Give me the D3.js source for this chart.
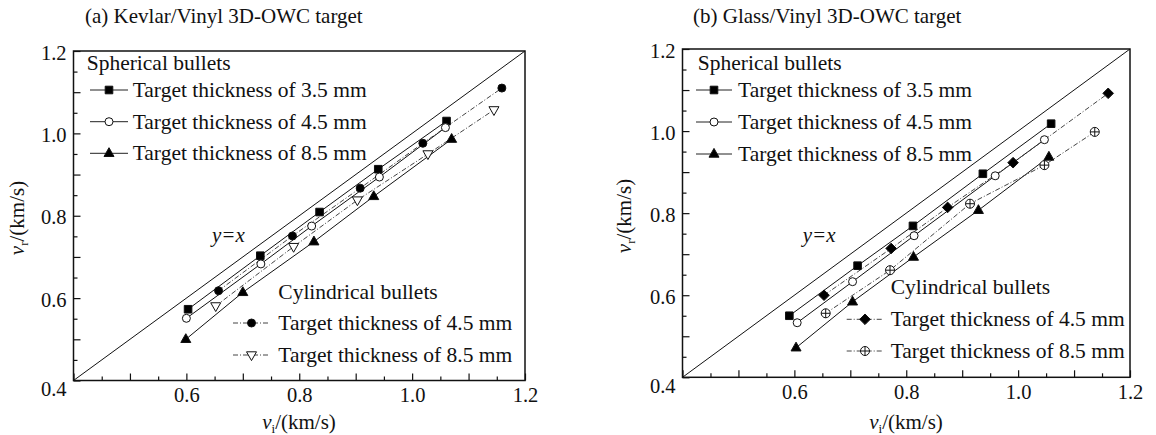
<html>
<head>
<title>Residual velocity vs impact velocity</title>
<style>
body {
	margin: 0;
	background: #fff;
}
</style>
</head>
<body>
<svg width="1156" height="435"></svg>
<script src="https://d3js.org/d3.v7.min.js"></script>
<script>
// Tick values and labels (both panels use the same 0.4 - 1.2 range)
const majorTicks = [0.4, 0.5, 0.6, 0.7, 0.8, 0.9, 1.0, 1.1, 1.2];
const minorTicks = [0.45, 0.55, 0.65, 0.75, 0.85, 0.95, 1.05, 1.15];
const xTickLabels = [0.6, 0.8, 1.0, 1.2];
const yTickLabels = [0.4, 0.6, 0.8, 1.0, 1.2];

const legendLabels = ["Target thickness of 3.5 mm", "Target thickness of 4.5 mm", "Target thickness of 8.5 mm"];
const cylLegendLabels = ["Target thickness of 4.5 mm", "Target thickness of 8.5 mm"];

// (a) Kevlar/Vinyl 3D-OWC target : impact velocity vi and residual velocity vr (km/s)
const aSph35Vi = [0.603, 0.731, 0.836, 0.940, 1.061];
const aSph35Vr = [0.573, 0.703, 0.809, 0.913, 1.030];
const aSph45Vi = [0.600, 0.732, 0.822, 0.942, 1.059];
const aSph45Vr = [0.551, 0.683, 0.775, 0.894, 1.014];
const aSph85Vi = [0.599, 0.700, 0.826, 0.932, 1.070];
const aSph85Vr = [0.500, 0.614, 0.737, 0.847, 0.986];
const aCyl45Vi = [0.657, 0.788, 0.908, 1.019, 1.159];
const aCyl45Vr = [0.618, 0.751, 0.867, 0.976, 1.110];
const aCyl85Vi = [0.652, 0.790, 0.903, 1.028, 1.145];
const aCyl85Vr = [0.581, 0.725, 0.838, 0.950, 1.057];

// (b) Glass/Vinyl 3D-OWC target
const bSph35Vi = [0.591, 0.713, 0.812, 0.937, 1.059];
const bSph35Vr = [0.550, 0.672, 0.769, 0.896, 1.018];
const bSph45Vi = [0.605, 0.704, 0.814, 0.959, 1.047];
const bSph45Vr = [0.533, 0.633, 0.745, 0.891, 0.979];
const bSph85Vi = [0.603, 0.704, 0.813, 0.929, 1.055];
const bSph85Vr = [0.472, 0.584, 0.693, 0.807, 0.937];
const bCyl45Vi = [0.653, 0.773, 0.874, 0.991, 1.161];
const bCyl45Vr = [0.600, 0.714, 0.814, 0.923, 1.092];
const bCyl85Vi = [0.656, 0.771, 0.914, 1.047, 1.137];
const bCyl85Vr = [0.556, 0.661, 0.823, 0.917, 0.998];

// marker shapes as path strings
function markerPath(type) {
	if (type == "square") { let r = 3.8; return `M${-r},${-r}h${2*r}v${2*r}h${-2*r}Z`; }
	if (type == "circle" || type == "ocircle") { let r = 4; return `M${r},0A${r},${r} 0 1 1 ${-r},0A${r},${r} 0 1 1 ${r},0Z`; }
	if (type == "triangle") { return "M0,-5.6L5,3.2L-5,3.2Z"; }
	if (type == "tridown") { return "M0,5.6L5,-3.2L-5,-3.2Z"; }
	if (type == "diamond") { return "M0,-5.3L5.3,0L0,5.3L-5.3,0Z"; }
	if (type == "crosscircle") { let r = 4.5; return `M${r},0A${r},${r} 0 1 1 ${-r},0A${r},${r} 0 1 1 ${r},0ZM0,${-r}V${r}M${-r},0H${r}`; }
}

const solid = null, dashDot = "5,2,1,2";
const FONT = "'Liberation Serif', 'Times New Roman', serif";

const panels = [
	{
		title: "(a) Kevlar/Vinyl 3D-OWC target", titleX: 85,
		left: 73.5, right: 525, top: 51, bottom: 380.5,
		yxPos: [212, 242], yTitle: [17, 218], xTitle: [299, 429],
		sphLegend: {x: 86.7, y: 63, lineX: [90, 128], textX: 132.7, rows: [90, 121.7, 153.3]},
		cylLegend: {x: 278.3, y: 291.7, lineX: [233, 270], textX: 278.3, rows: [323, 355]},
		sph: [
			{vi: aSph35Vi, vr: aSph35Vr, marker: "square", fill: "#000"},
			{vi: aSph45Vi, vr: aSph45Vr, marker: "ocircle", fill: "#fff"},
			{vi: aSph85Vi, vr: aSph85Vr, marker: "triangle", fill: "#000"}
		],
		cyl: [
			{vi: aCyl45Vi, vr: aCyl45Vr, marker: "circle", fill: "#000"},
			{vi: aCyl85Vi, vr: aCyl85Vr, marker: "tridown", fill: "#fff"}
		]
	},
	{
		title: "(b) Glass/Vinyl 3D-OWC target", titleX: 693,
		left: 682.5, right: 1130, top: 49, bottom: 377.3,
		yxPos: [802.7, 242], yTitle: [624, 216], xTitle: [906, 429],
		sphLegend: {x: 697.8, y: 63, lineX: [696, 732], textX: 738, rows: [90, 122, 154]},
		cylLegend: {x: 890.7, y: 287, lineX: [846.7, 883.3], textX: 890.7, rows: [319.3, 351]},
		sph: [
			{vi: bSph35Vi, vr: bSph35Vr, marker: "square", fill: "#000"},
			{vi: bSph45Vi, vr: bSph45Vr, marker: "ocircle", fill: "#fff"},
			{vi: bSph85Vi, vr: bSph85Vr, marker: "triangle", fill: "#000"}
		],
		cyl: [
			{vi: bCyl45Vi, vr: bCyl45Vr, marker: "diamond", fill: "#000"},
			{vi: bCyl85Vi, vr: bCyl85Vr, marker: "crosscircle", fill: "#fff"}
		]
	}
];

let svg = d3.select("svg");
svg.append("rect").attr("width", 1156).attr("height", 435).attr("fill", "#fff");

function drawPanel(p) {
	let x = d3.scaleLinear().domain([0.4, 1.2]).range([p.left, p.right]);
	let y = d3.scaleLinear().domain([0.4, 1.2]).range([p.bottom, p.top]);
	let g = svg.append("g");
	let fmt = d => d.toFixed(1);

	// minor ticks (inside)
	g.append("g").attr("transform", `translate(0,${p.bottom})`)
		.call(d3.axisBottom(x).tickValues(minorTicks).tickSize(-4).tickFormat(""));
	g.append("g").attr("transform", `translate(${p.left},0)`)
		.call(d3.axisLeft(y).tickValues(minorTicks).tickSize(-4).tickFormat(""));
	// major ticks with labels
	g.append("g").attr("class", "xaxis").attr("transform", `translate(0,${p.bottom})`)
		.call(d3.axisBottom(x).tickValues(majorTicks).tickSize(-7).tickPadding(7)
			.tickFormat(d => xTickLabels.some(v => Math.abs(v - d) < 1e-6) ? fmt(d) : ""));
	g.append("g").attr("class", "yaxis").attr("transform", `translate(${p.left},0)`)
		.call(d3.axisLeft(y).tickValues(majorTicks).tickSize(-7).tickPadding(7)
			.tickFormat(d => yTickLabels.some(v => Math.abs(v - d) < 1e-6) ? fmt(d) : ""));
	g.selectAll(".domain").remove();
	g.selectAll(".tick line").attr("stroke", "#111").attr("stroke-width", 1.2);
	g.selectAll(".tick text").style("font-size", "20.5px").attr("fill", "#111");
	g.selectAll(".yaxis .tick text").attr("dy", d => d == 0.4 ? "0.75em" : "0.4em");

	// frame
	g.append("rect")
		.attr("x", p.left).attr("y", p.top)
		.attr("width", p.right - p.left).attr("height", p.bottom - p.top)
		.attr("fill", "none").attr("stroke", "#111").attr("stroke-width", 1.5);

	// y = x reference line
	g.append("line")
		.attr("x1", x(0.4)).attr("y1", y(0.4)).attr("x2", x(1.2)).attr("y2", y(1.2))
		.attr("stroke", "#111").attr("stroke-width", 1);

	let line = d3.line().x(d => x(d[0])).y(d => y(d[1]));

	// series lines then markers
	let allSeries = p.sph.map(s => Object.assign({dash: solid}, s))
		.concat(p.cyl.map(s => Object.assign({dash: dashDot}, s)));
	allSeries.forEach(s => {
		let pts = s.vi.map((v, i) => [v, s.vr[i]]);
		g.append("path").datum(pts).attr("d", line)
			.attr("fill", "none").attr("stroke", s.dash ? "#444" : "#111")
			.attr("stroke-width", 1).attr("stroke-dasharray", s.dash);
	});
	allSeries.forEach(s => {
		let pts = s.vi.map((v, i) => [v, s.vr[i]]);
		g.selectAll(null).data(pts).enter().append("path")
			.attr("transform", d => `translate(${x(d[0])},${y(d[1])})`)
			.attr("d", markerPath(s.marker))
			.attr("fill", s.fill).attr("stroke", "#111").attr("stroke-width", 1);
	});

	// texts
	g.append("text").attr("x", p.titleX).attr("y", 23).style("font-size", "21px").text(p.title);
	g.append("text").attr("x", p.yxPos[0]).attr("y", p.yxPos[1]).style("font-size", "21px")
		.style("font-style", "italic").text("y=x");

	let yt = g.append("text")
		.attr("transform", `translate(${p.yTitle[0]},${p.yTitle[1]}) rotate(-90)`)
		.attr("text-anchor", "middle").attr("dy", "0.35em").style("font-size", "21px");
	yt.append("tspan").style("font-style", "italic").text("v");
	yt.append("tspan").attr("dy", 4).style("font-size", "13px").text("r");
	yt.append("tspan").attr("dy", -4).text("/(km/s)");

	let xt = g.append("text").attr("x", p.xTitle[0]).attr("y", p.xTitle[1])
		.attr("text-anchor", "middle").style("font-size", "21px");
	xt.append("tspan").style("font-style", "italic").text("v");
	xt.append("tspan").attr("dy", 4).style("font-size", "13px").text("i");
	xt.append("tspan").attr("dy", -4).text("/(km/s)");

	// legends
	function legend(L, heading, list, labels) {
		g.append("text").attr("x", L.x).attr("y", L.y).attr("dy", "0.33em")
			.style("font-size", "21.5px").text(heading);
		list.forEach((s, i) => {
			let cy = L.rows[i];
			g.append("line").attr("x1", L.lineX[0]).attr("x2", L.lineX[1]).attr("y1", cy).attr("y2", cy)
				.attr("stroke", s.dash ? "#444" : "#222").attr("stroke-width", 1)
				.attr("stroke-dasharray", s.dash);
			g.append("path").attr("transform", `translate(${(L.lineX[0] + L.lineX[1]) / 2},${cy})`)
				.attr("d", markerPath(s.marker)).attr("fill", s.fill)
				.attr("stroke", "#111").attr("stroke-width", 1);
			g.append("text").attr("x", L.textX).attr("y", cy).attr("dy", "0.33em")
				.style("font-size", "21.5px").text(labels[i]);
		});
	}
	legend(p.sphLegend, "Spherical bullets", p.sph.map(s => Object.assign({dash: solid}, s)), legendLabels);
	legend(p.cylLegend, "Cylindrical bullets", p.cyl.map(s => Object.assign({dash: dashDot}, s)), cylLegendLabels);
}

panels.forEach(drawPanel);

// serif font on every text, including the axis tick labels
svg.selectAll("text").style("font-family", FONT).style("fill", "#111");
</script>
</body>
</html>
